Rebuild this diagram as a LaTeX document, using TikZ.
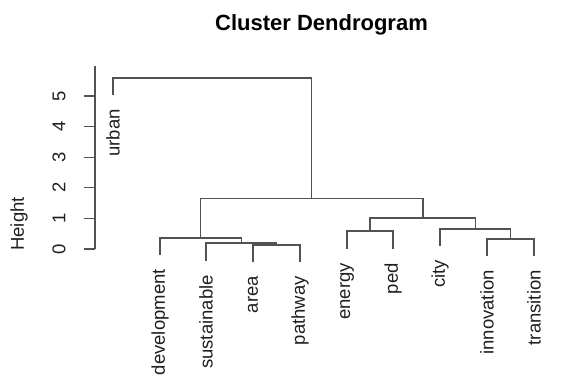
\documentclass[tikz,border=0pt]{standalone}
\usepackage{fontspec}
\setmainfont{Liberation Sans}
\begin{document}
\begin{tikzpicture}[x=1pt,y=-1pt,
  dline/.style={draw=black!68,line width=1.35pt},
  lbl/.style={font=\fontsize{18.5}{20}\selectfont,text=black!88,inner sep=0pt},
  leaflbl/.style={lbl,rotate=90,anchor=east},
  ticklbl/.style={lbl,rotate=90,anchor=center}]
\useasboundingbox (0,0) rectangle (563,388);
% title
\node[font=\fontsize{22}{24}\selectfont\bfseries,inner sep=0pt] (title) at (321.5,25) {Cluster Dendrogram};
% axis
\coordinate (axtop) at (95,66);
\coordinate (axbot) at (95,249);
\draw[dline] (axtop) -- (axbot);
\foreach \i in {0,...,5}{
  \coordinate (t\i) at (95,249-30.6*\i);
  \coordinate (tl\i) at (84,249-30.6*\i);
  \draw[dline] (tl\i) -- (t\i);
  \node[ticklbl] (tk\i) at (59,249-30.6*\i) {\i};
}
\node[lbl,rotate=90] (ylab) at (19,224) {Height};
% leaves (bottom ends)
\coordinate (urban) at (113,95);
\coordinate (development) at (160,255);
\coordinate (sustainable) at (206,261);
\coordinate (area) at (253,262);
\coordinate (pathway) at (300,262);
\coordinate (energy) at (347,249);
\coordinate (ped) at (393,249);
\coordinate (city) at (440,246);
\coordinate (innovation) at (487,256);
\coordinate (transition) at (534,256);
% merges
\coordinate (map) at (276.5,245);
\coordinate (ms) at (241.5,243);
\coordinate (mL) at (200.5,238);
\coordinate (mep) at (370,231);
\coordinate (mit) at (510.5,239);
\coordinate (mc) at (475.5,229);
\coordinate (mR) at (423,218);
\coordinate (mLR) at (311.5,198.5);
\coordinate (mtop) at (212.5,78);
% edges
\draw[dline] (area) |- (map);
\draw[dline] (pathway) |- (map);
\draw[dline] (sustainable) |- (ms);
\draw[dline] (map) |- (ms);
\draw[dline] (development) |- (mL);
\draw[dline] (ms) |- (mL);
\draw[dline] (energy) |- (mep);
\draw[dline] (ped) |- (mep);
\draw[dline] (innovation) |- (mit);
\draw[dline] (transition) |- (mit);
\draw[dline] (city) |- (mc);
\draw[dline] (mit) |- (mc);
\draw[dline] (mep) |- (mR);
\draw[dline] (mc) |- (mR);
\draw[dline] (mL) |- (mLR);
\draw[dline] (mR) |- (mLR);
\draw[dline] (urban) |- (mtop);
\draw[dline] (mLR) |- (mtop);
% leaf labels
\foreach \n in {urban,development,sustainable,area,pathway,energy,ped,city,innovation,transition}{
  \node[leaflbl] (l-\n) at ([yshift=-14pt]\n) {\n};
}
\end{tikzpicture}
\end{document}
